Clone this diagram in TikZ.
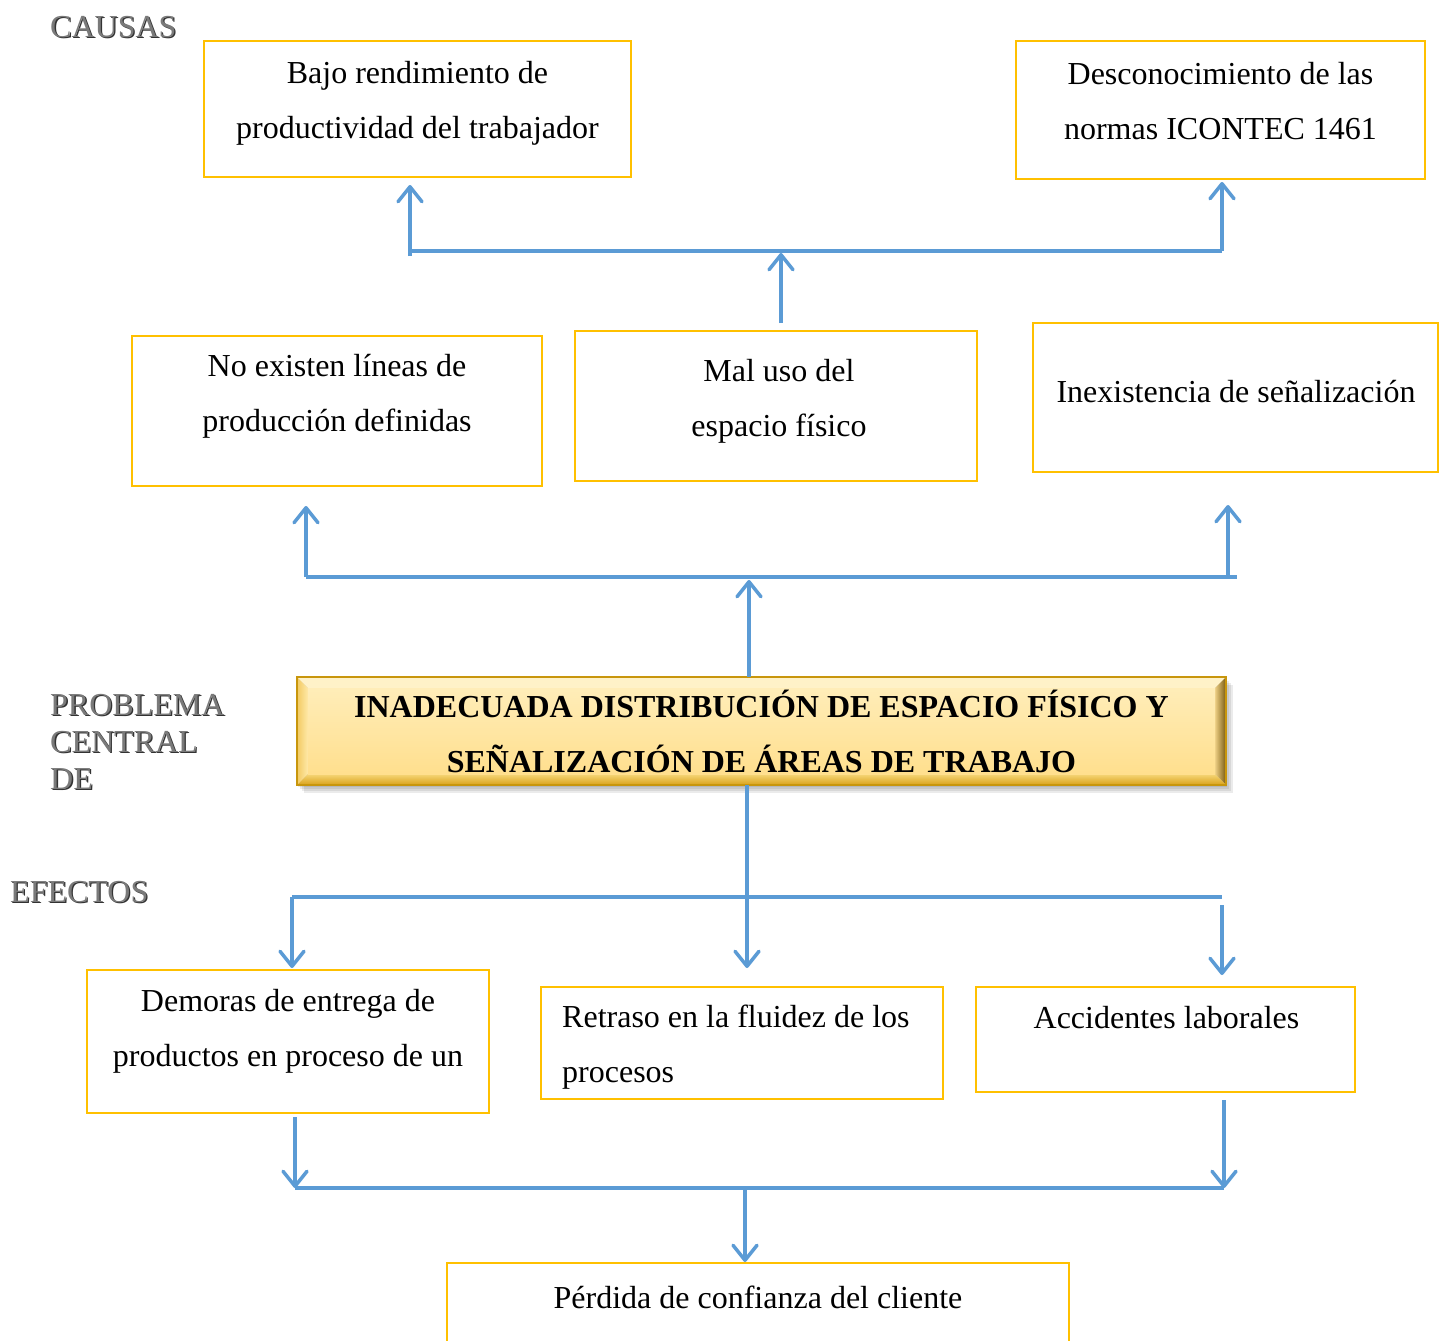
\documentclass[tikz,border=0pt]{standalone}
\usepackage{fontspec}
\setmainfont{Liberation Serif}
\usetikzlibrary{arrows.meta}
\definecolor{boxyellow}{HTML}{FFC000}
\definecolor{arrowblue}{HTML}{5B9BD5}
\definecolor{labelgray}{HTML}{7A7A7A}
\definecolor{faceTop}{HTML}{FFEDB8}
\definecolor{faceBot}{HTML}{FFDF8E}
\definecolor{bevTop}{HTML}{FFF2C8}
\definecolor{bevLout}{HTML}{F2CA62}
\definecolor{bevLin}{HTML}{FFE9A8}
\definecolor{bevRin}{HTML}{EDCF84}
\definecolor{bevRout}{HTML}{7A5A10}
\definecolor{bevBin}{HTML}{F6D678}
\definecolor{bevBout}{HTML}{D9A21A}
\definecolor{rim}{HTML}{C8960C}
\newcommand\bodyfont{\fontsize{32}{55}\selectfont}
\newcommand\labelfont{\fontsize{32}{37}\selectfont}
\tikzset{
  cbox/.style={draw=boxyellow, line width=2.5pt, inner sep=0pt, outer sep=0pt},
  txt/.style={font=\bodyfont, align=center, inner sep=0pt},
  sidelbl/.style={font=\labelfont, align=left, inner sep=0pt, anchor=west, text=labelgray},
  sideshadow/.style={font=\labelfont, align=left, inner sep=0pt, anchor=west, text=black!80},
  link/.style={draw=arrowblue, line width=3.5pt},
  arr/.style={draw=arrowblue, line width=3.5pt, -{Straight Barb[length=15pt,width=24pt,round]}}
}
\begin{document}
\begin{tikzpicture}[x=1pt,y=-1pt]
\clip (0,0) rectangle (1444,1341);
\fill[white] (0,0) rectangle (1444,1341);

% side headings with a soft drop shadow
\node[sideshadow] (lblCausasSh) at (51.3,28.3) {CAUSAS};
\node[sidelbl] (lblCausas) at (50,27) {CAUSAS};
\node[sideshadow] (lblProblemaSh) at (51.3,743.3) {PROBLEMA\\CENTRAL\\DE};
\node[sidelbl] (lblProblema) at (50,742) {PROBLEMA\\CENTRAL\\DE};
\node[sideshadow] (lblEfectosSh) at (11.3,893.3) {EFECTOS};
\node[sidelbl] (lblEfectos) at (10,892) {EFECTOS};

% causes
\node[cbox, minimum width=427pt, minimum height=136pt] (c1) at (417.5,109) {};
\node[txt] (c1t) at (417.5,103) {Bajo rendimiento de\\productividad del trabajador};
\node[cbox, minimum width=409pt, minimum height=138pt] (c2) at (1220.5,110) {};
\node[txt] (c2t) at (1220.5,101) {Desconocimiento de las\\normas ICONTEC 1461};
\node[cbox, minimum width=410pt, minimum height=150pt] (m1) at (337,411) {};
\node[txt] (m1t) at (337,396) {No existen líneas de\\producción definidas};
\node[cbox, minimum width=402pt, minimum height=150pt] (m2) at (776,406) {};
\node[txt] (m2t) at (779,401) {Mal uso del\\espacio físico};
\node[cbox, minimum width=405pt, minimum height=149pt] (m3) at (1235.5,397.5) {};
\node[txt] (m3t) at (1236,392) {Inexistencia de señalización};

% central problem: bevelled golden panel with shadow
\node[minimum width=929pt, minimum height=108pt, inner sep=0pt, outer sep=0pt] (prob) at (761.5,731) {};
\foreach \s in {2,4,6,8}
  \fill[black, opacity=0.08] ([shift={(\s-1,\s)}]prob.north west) rectangle ([shift={(\s-1,\s)}]prob.south east);
\fill[bevTop] (prob.north west) -- (prob.north east) -- ([shift={(-11,11)}]prob.north east) -- ([shift={(11,11)}]prob.north west) -- cycle;
\shade[left color=bevLout, right color=bevLin] (prob.north west) -- ([shift={(11,11)}]prob.north west) -- ([shift={(11,-11)}]prob.south west) -- (prob.south west) -- cycle;
\shade[left color=bevRin, right color=bevRout] (prob.north east) -- (prob.south east) -- ([shift={(-11,-11)}]prob.south east) -- ([shift={(-11,11)}]prob.north east) -- cycle;
\shade[top color=bevBin, bottom color=bevBout] (prob.south west) -- ([shift={(11,-11)}]prob.south west) -- ([shift={(-11,-11)}]prob.south east) -- (prob.south east) -- cycle;
\shade[top color=faceTop, bottom color=faceBot] ([shift={(11,11)}]prob.north west) rectangle ([shift={(-11,-11)}]prob.south east);
\draw[rim, line width=1.5pt] (prob.north west) rectangle (prob.south east);
\node[txt, font=\bfseries\bodyfont] (probt) at (761.5,731) {INADECUADA DISTRIBUCIÓN DE ESPACIO FÍSICO Y\\SEÑALIZACIÓN DE ÁREAS DE TRABAJO};

% effects
\node[cbox, minimum width=402pt, minimum height=143pt] (e1) at (288,1041.5) {};
\node[txt] (e1t) at (288,1031) {Demoras de entrega de\\productos en proceso de un};
\node[cbox, minimum width=402pt, minimum height=112pt] (e2) at (742,1043) {};
\node[txt, align=left, anchor=west] (e2t) at (562,1047) {Retraso en la fluidez de los\\procesos};
\node[cbox, minimum width=379pt, minimum height=105pt] (e3) at (1165.5,1039.5) {};
\node[txt] (e3t) at (1166.5,1018) {Accidentes laborales};
\node[cbox, minimum width=622pt, minimum height=157pt] (fin) at (758,1341.5) {};
\node[txt] (fint) at (758,1297) {Pérdida de confianza del cliente};

% junction points
\coordinate (jTL) at (410,251);
\coordinate (jTR) at (1222,251);
\coordinate (jTM) at (781,251);
\coordinate (jML) at (306,577);
\coordinate (jMR) at (1237,577);
\coordinate (jMRa) at (1228,577);
\coordinate (jMM) at (749,577);
\coordinate (jEL) at (292,897);
\coordinate (jER) at (1222,897);
\coordinate (jEM) at (747,897);
\coordinate (jBL) at (295,1188);
\coordinate (jBR) at (1224,1188);
\coordinate (jBM) at (745,1188);

% cause connectors
\draw[link] (jTL) -- (jTR);
\draw[arr] ([yshift=-5pt]jTL) -- ([yshift=-8pt]c1.south -| jTL);
\draw[arr] (jTR) -- ([yshift=-3pt]c2.south -| jTR);
\draw[arr] ([yshift=8pt]m2.north -| jTM) -- ([yshift=-2pt]jTM);
\draw[link] (jML) -- (jMR);
\draw[arr] (jML) -- ([yshift=-20pt]m1.south -| jML);
\draw[arr] (jMRa) -- ([yshift=-33pt]m3.south -| jMRa);
\draw[arr] (prob.north -| jMM) -- ([yshift=-3pt]jMM);

% effect connectors
\draw[link] (jEL) -- (jER);
\draw[arr] (prob.south -| jEM) -- ([yshift=19pt]e2.north -| jEM);
\draw[arr] (jEL) -- ([yshift=2pt]e1.north -| jEL);
\draw[arr] ([yshift=-8pt]jER) -- ([yshift=12pt]e3.north -| jER);
\draw[link] (jBL) -- (jBR);
\draw[arr] ([yshift=-4pt]e1.south -| jBL) -- (jBL);
\draw[arr] ([yshift=-8pt]e3.south -| jBR) -- (jBR);
\draw[arr] (jBM) -- ([yshift=1pt]fin.north -| jBM);
\end{tikzpicture}
\end{document}
